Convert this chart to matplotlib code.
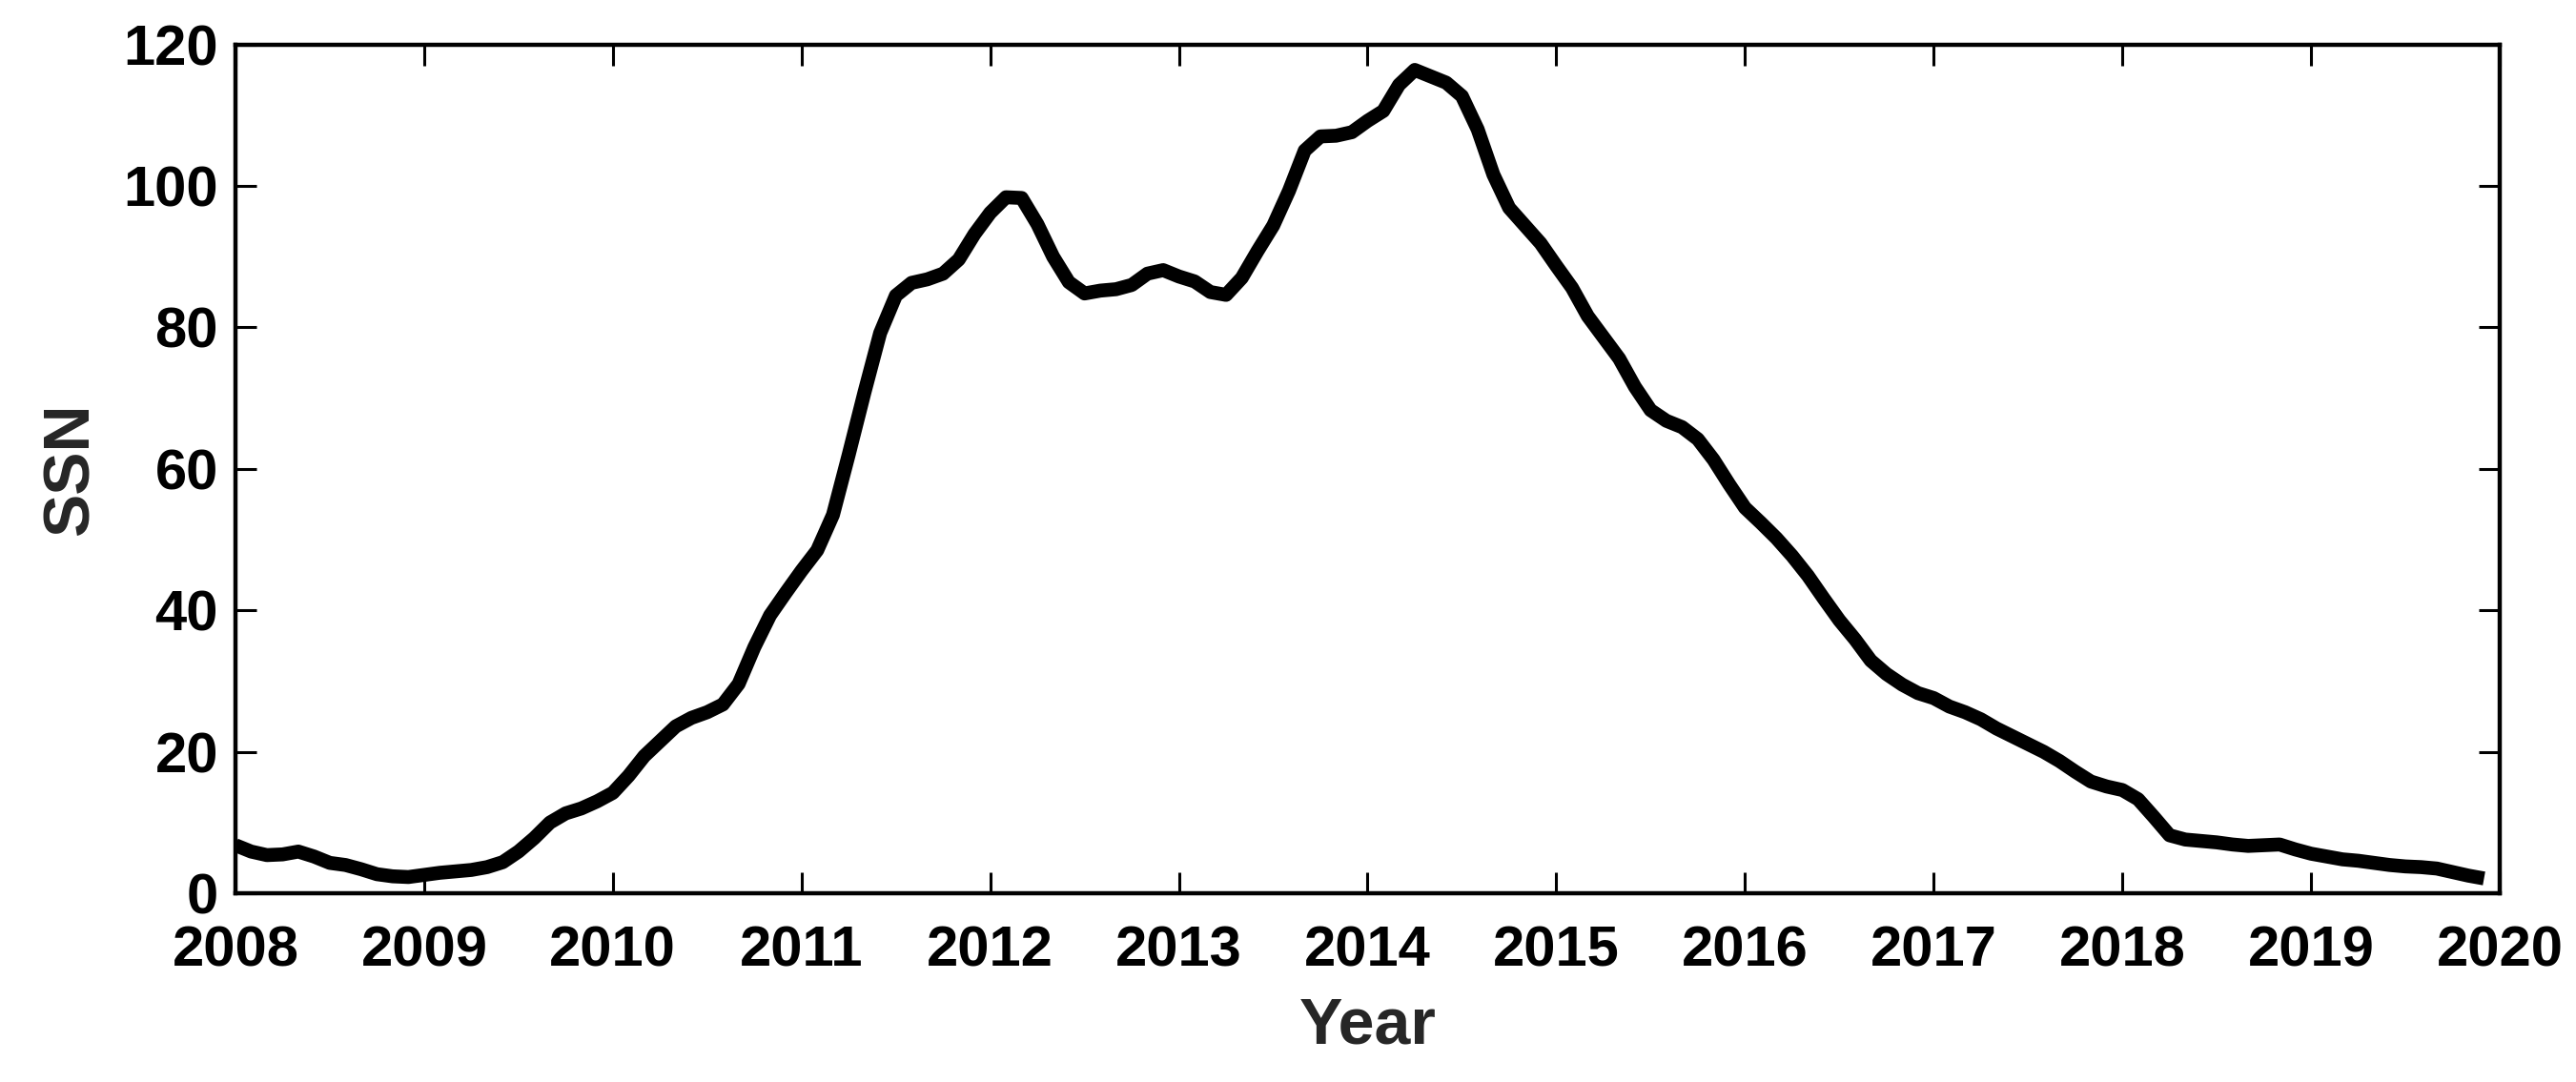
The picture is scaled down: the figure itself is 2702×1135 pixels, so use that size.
import numpy as np
import matplotlib
matplotlib.use("Agg")
import matplotlib.pyplot as plt

# Monthly smoothed sunspot number, Jan 2008 .. Dec 2019
START_YEAR = 2008
SSN = [
    6.8, 5.9, 5.4, 5.5, 5.9, 5.2, 4.3, 4.0, 3.4, 2.7, 2.4, 2.3,          # 2008
    2.6, 2.9, 3.1, 3.3, 3.7, 4.4, 5.9, 7.8, 10.0, 11.3, 12.0, 13.0,      # 2009
    14.2, 16.6, 19.4, 21.5, 23.6, 24.8, 25.6, 26.7, 29.6, 34.8, 39.3, 42.5,  # 2010
    45.6, 48.5, 53.5, 62.0, 70.8, 79.2, 84.5, 86.3, 86.8, 87.6, 89.6, 93.2,  # 2011
    96.2, 98.4, 98.3, 94.6, 90.0, 86.4, 84.8, 85.2, 85.4, 86.0, 87.6, 88.1,  # 2012
    87.2, 86.5, 85.0, 84.6, 87.0, 90.8, 94.4, 99.3, 105.0, 107.0, 107.1, 107.6,  # 2013
    109.2, 110.6, 114.3, 116.4, 115.5, 114.6, 112.7, 108.0, 101.6, 96.9, 94.4, 91.9,  # 2014
    88.7, 85.6, 81.6, 78.6, 75.6, 71.6, 68.3, 66.8, 65.9, 64.2, 61.3, 57.8,  # 2015
    54.5, 52.4, 50.2, 47.7, 44.9, 41.7, 38.6, 35.9, 32.9, 31.0, 29.5, 28.3,  # 2016
    27.6, 26.4, 25.6, 24.6, 23.3, 22.2, 21.1, 20.0, 18.7, 17.2, 15.8, 15.1,  # 2017
    14.6, 13.3, 10.8, 8.2, 7.6, 7.4, 7.2, 6.9, 6.7, 6.8, 6.9, 6.2,         # 2018
    5.6, 5.2, 4.8, 4.6, 4.3, 4.0, 3.8, 3.7, 3.5, 3.0, 2.5, 2.1,            # 2019
]
X_TICKS = list(range(2008, 2021))
Y_TICKS = [0, 20, 40, 60, 80, 100, 120]

plt.rcParams["font.family"] = ["Liberation Sans", "DejaVu Sans"]
plt.rcParams["font.weight"] = "bold"

years = START_YEAR + np.arange(len(SSN)) / 12.0

fig = plt.figure(figsize=(27.02, 11.35), dpi=100)
ax = fig.add_axes([0.0914, 0.1744, 0.8790, 0.7845])

ax.plot(years, SSN, color="black", lw=10.5, solid_capstyle="butt",
        solid_joinstyle="round")

ax.set_xlim(2008, 2020)
ax.set_ylim(0, 120)
ax.set_xticks(X_TICKS)
ax.set_yticks(Y_TICKS)
ax.tick_params(direction="in", length=16, width=2.2, top=True, right=True,
               labelsize=43, color="black")
ax.tick_params(axis="x", pad=24)
ax.tick_params(axis="y", pad=13)
for lab in ax.get_xticklabels() + ax.get_yticklabels():
    lab.set_fontweight("bold")
for sp in ax.spines.values():
    sp.set_linewidth(3.2)

ax.set_xlabel("Year", fontsize=49, fontweight="bold", color="#262626", labelpad=14)
ax.set_ylabel("SSN", fontsize=49, fontweight="bold", color="#262626", labelpad=16)

fig.savefig("out.png", dpi=100)
